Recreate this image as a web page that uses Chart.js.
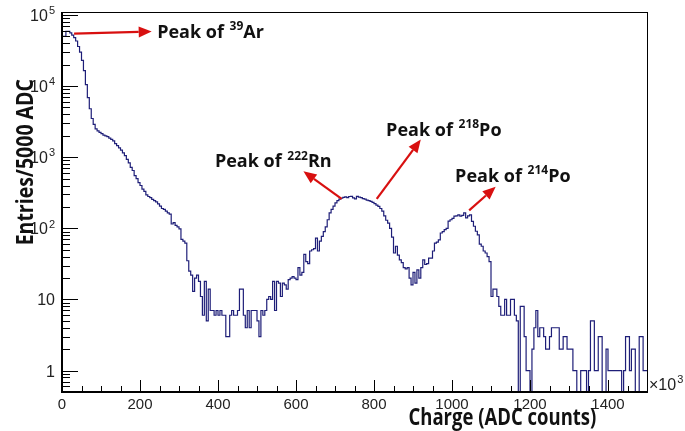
<!DOCTYPE html>
<html>
<head>
  <meta charset="UTF-8">
  <title>Charge spectrum</title>
  <script src="https://cdn.jsdelivr.net/npm/chart.js"></script>
  <style>
    body { margin: 0; background: #fff; }
  </style>
</head>
<body>
  <canvas id="spec" width="685" height="431"></canvas>

  <script>
    // histogram: 300 bins of 5 (x10^3 ADC) from 0 to 1500
    const binWidth = 5;
    const counts = [
      0, 50000, 50000, 59000, 59000, 56000, 52000, 48000, 43000, 36000,
      30000, 23000, 16500, 10500, 6900, 4800, 3500, 2900, 2500, 2350,
      2240, 2140, 2050, 2000, 1950, 1860, 1780, 1700, 1550, 1450,
      1350, 1260, 1150, 1050, 930, 830, 720, 650, 550, 500,
      440, 400, 355, 330, 295, 280, 270, 255, 245, 235,
      220, 205, 190, 185, 175, 165, 158, 115, 120, 110,
      105, 98, 70, 66, 62, 35, 25, 22, 13, 20,
      22, 18, 11, 6, 18, 5, 14, 7, 7, 6,
      7, 6, 7, 6, 6, 3, 3, 6, 7, 6,
      6, 7, 14, 14, 6, 4, 7, 4, 7, 7,
      7, 5, 3, 7, 6, 7, 10, 11, 10, 18,
      7, 18, 17, 11, 17, 16, 14, 19, 20, 21,
      20, 19, 28, 22, 24, 43, 34, 32, 48, 50,
      52, 73, 48, 66, 77, 90, 105, 132, 165, 185,
      205, 228, 245, 258, 265, 272, 277, 270, 280, 282,
      268, 260, 282, 275, 270, 262, 258, 250, 245, 240,
      232, 222, 212, 204, 190, 175, 150, 130, 118, 100,
      75, 45, 56, 42, 36, 33, 28, 27, 28, 20,
      16, 24, 17, 26, 20, 28, 36, 31, 32, 38,
      38, 48, 62, 64, 69, 86, 90, 96, 100, 126,
      132, 138, 148, 150, 155, 148, 152, 165, 140, 150,
      155, 125, 107, 91, 81, 60, 56, 48, 45, 40,
      34, 11, 14, 14, 11, 8, 6, 6, 10, 6,
      6, 10, 10, 6, 5, 0, 8, 8, 3, 1,
      1, 0, 2, 4, 7, 3, 4, 4, 3, 2,
      2, 3, 4, 4, 4, 4, 2, 2, 3, 3,
      2, 2, 2, 1, 1, 0, 0, 1, 1, 1,
      0, 1, 5, 5, 1, 1, 3, 3, 0, 0,
      2, 1, 1, 1, 1, 1, 1, 1, 0, 1,
      3, 3, 1, 2, 2, 0, 0, 3, 3, 1
    ];

    const xMin = 0, xMax = 1500;
    const yMin = 0.5, yMax = 110000;
    const xMajor = [0, 200, 400, 600, 800, 1000, 1200, 1400];
    const yMajor = [1, 10, 100, 1000, 10000, 100000];
    const yMajorExp = ['', '', '2', '3', '4', '5'];

    // annotations in data units: text anchor, arrow tail, arrow head
    const peakIsotopes = ['39', '222', '218', '214'];
    const peakElements = ['Ar', 'Rn', 'Po', 'Po'];
    const peakText = [[244, 57600], [392, 871], [831, 2450], [1008, 552]];
    const peakTail = [[31, 54700], [717, 259], [807, 259], [1044, 179]];
    const peakHead = [[230, 58400], [619, 635], [920, 1775], [1112, 383]];

    // bin edges; empty bins sit on the axis floor like ROOT draws them
    const points = counts.map((c, i) => ({ x: xMin + i * binWidth, y: c > 0 ? c : yMin }));
    points.push({ x: xMax, y: points[points.length - 1].y });

    const tickFont = '"Liberation Sans", Arial, sans-serif';
    const boldFont = '"Open Sans", "Noto Sans", sans-serif';

    function textSup(ctx, base, exp, x, y, size, align, font, weight) {
      const big = `${weight || ''} ${size}px ${font}`;
      const small = `${weight || ''} ${Math.round(size * 0.68)}px ${font}`;
      ctx.font = big;
      const wb = ctx.measureText(base).width;
      ctx.font = small;
      const we = exp ? ctx.measureText(exp).width + 1 : 0;
      let x0 = x;
      if (align === 'right') x0 = x - wb - we;
      if (align === 'center') x0 = x - (wb + we) / 2;
      ctx.textAlign = 'left';
      ctx.font = big;
      ctx.fillText(base, x0, y);
      if (exp) {
        ctx.font = small;
        ctx.fillText(exp, x0 + wb + 1, y - size * 0.42);
      }
      return x0 + wb + we;
    }

    const rootStyle = {
      id: 'rootStyle',
      afterDatasetsDraw(chart) {
        const ctx = chart.ctx;
        const xs = chart.scales.x, ys = chart.scales.y;
        const a = chart.chartArea;
        ctx.save();

        // arrows
        ctx.strokeStyle = '#d81010';
        ctx.fillStyle = '#d81010';
        ctx.lineWidth = 2.2;
        for (let i = 0; i < peakTail.length; i++) {
          const x1 = xs.getPixelForValue(peakTail[i][0]), y1 = ys.getPixelForValue(peakTail[i][1]);
          const x2 = xs.getPixelForValue(peakHead[i][0]), y2 = ys.getPixelForValue(peakHead[i][1]);
          const ang = Math.atan2(y2 - y1, x2 - x1);
          const hl = 13, hw = 5.5;
          const bx = x2 - hl * Math.cos(ang), by = y2 - hl * Math.sin(ang);
          ctx.beginPath();
          ctx.moveTo(x1, y1);
          ctx.lineTo(bx, by);
          ctx.stroke();
          ctx.beginPath();
          ctx.moveTo(x2, y2);
          ctx.lineTo(bx + hw * Math.sin(ang), by - hw * Math.cos(ang));
          ctx.lineTo(bx - hw * Math.sin(ang), by + hw * Math.cos(ang));
          ctx.closePath();
          ctx.fill();
        }

        // peak labels
        ctx.fillStyle = '#111';
        ctx.textBaseline = 'alphabetic';
        for (let i = 0; i < peakText.length; i++) {
          const tx = xs.getPixelForValue(peakText[i][0]);
          const ty = ys.getPixelForValue(peakText[i][1]) + 6;
          const end = textSup(ctx, 'Peak of ', peakIsotopes[i], tx, ty, 18, 'left', boldFont, 'bold');
          ctx.font = `bold 18px ${boldFont}`;
          ctx.fillText(peakElements[i], end, ty);
        }

        // frame
        ctx.strokeStyle = '#000';
        ctx.lineWidth = 1;
        ctx.strokeRect(a.left + 0.5, a.top + 0.5, a.right - a.left, a.bottom - a.top);
        ctx.lineWidth = 2;
        ctx.beginPath();
        ctx.moveTo(a.left, a.top);
        ctx.lineTo(a.left, a.bottom);
        ctx.lineTo(a.right, a.bottom);
        ctx.stroke();

        // x ticks (inward)
        ctx.lineWidth = 1;
        ctx.beginPath();
        for (let v = xMin; v <= xMax; v += 50) {
          const px = Math.round(xs.getPixelForValue(v)) + 0.5;
          const len = v % 200 === 0 ? 12 : 6;
          ctx.moveTo(px, a.bottom);
          ctx.lineTo(px, a.bottom - len);
        }
        // y ticks (inward)
        for (let d = 0.1; d <= 100000; d *= 10) {
          for (let m = 1; m <= 9; m++) {
            const v = d * m;
            if (v < yMin || v > yMax) continue;
            const py = Math.round(ys.getPixelForValue(v)) + 0.5;
            const len = m === 1 ? 16 : 8;
            ctx.moveTo(a.left, py);
            ctx.lineTo(a.left + len, py);
          }
        }
        ctx.stroke();

        // tick labels
        ctx.fillStyle = '#222';
        xMajor.forEach(v => {
          ctx.font = `15px ${tickFont}`;
          ctx.textAlign = 'center';
          ctx.fillText(String(v), xs.getPixelForValue(v), a.bottom + 17);
        });
        yMajor.forEach((v, i) => {
          textSup(ctx, String(v === 1 || v === 10 ? v : 10), yMajorExp[i], a.left - 7,
            ys.getPixelForValue(v) + 6, 16, 'right', tickFont);
        });
        textSup(ctx, '\u00d710', '3', a.right + 2, a.bottom - 2, 16, 'left', tickFont);

        // axis titles (slightly tall lettering, as in the original)
        ctx.fillStyle = '#111';
        ctx.save();
        ctx.font = `bold 18.5px ${boldFont}`;
        ctx.translate(xs.getPixelForValue(1370), a.bottom + 33);
        ctx.scale(1, 1.22);
        ctx.textAlign = 'right';
        ctx.fillText('Charge (ADC counts)', 0, 0);
        ctx.restore();

        ctx.font = `bold 19.5px ${boldFont}`;
        ctx.translate(33, ys.getPixelForValue(850));
        ctx.rotate(-Math.PI / 2);
        ctx.scale(1, 1.2);
        ctx.textAlign = 'center';
        ctx.fillText('Entries/5000 ADC', 0, 0);
        ctx.restore();
      }
    };

    new Chart(document.getElementById('spec'), {
      type: 'line',
      data: {
        datasets: [{
          data: points,
          stepped: 'after',
          borderColor: '#1e1e78',
          borderWidth: 1.2,
          pointRadius: 0,
          fill: false
        }]
      },
      options: {
        responsive: false,
        animation: false,
        devicePixelRatio: 1,
        layout: { padding: { left: 62, right: 38, top: 12, bottom: 39 } },
        scales: {
          x: { type: 'linear', min: xMin, max: xMax, display: false },
          y: { type: 'logarithmic', min: yMin, max: yMax, display: false }
        },
        plugins: {
          legend: { display: false },
          tooltip: { enabled: false }
        }
      },
      plugins: [rootStyle]
    });
  </script>
</body>
</html>
